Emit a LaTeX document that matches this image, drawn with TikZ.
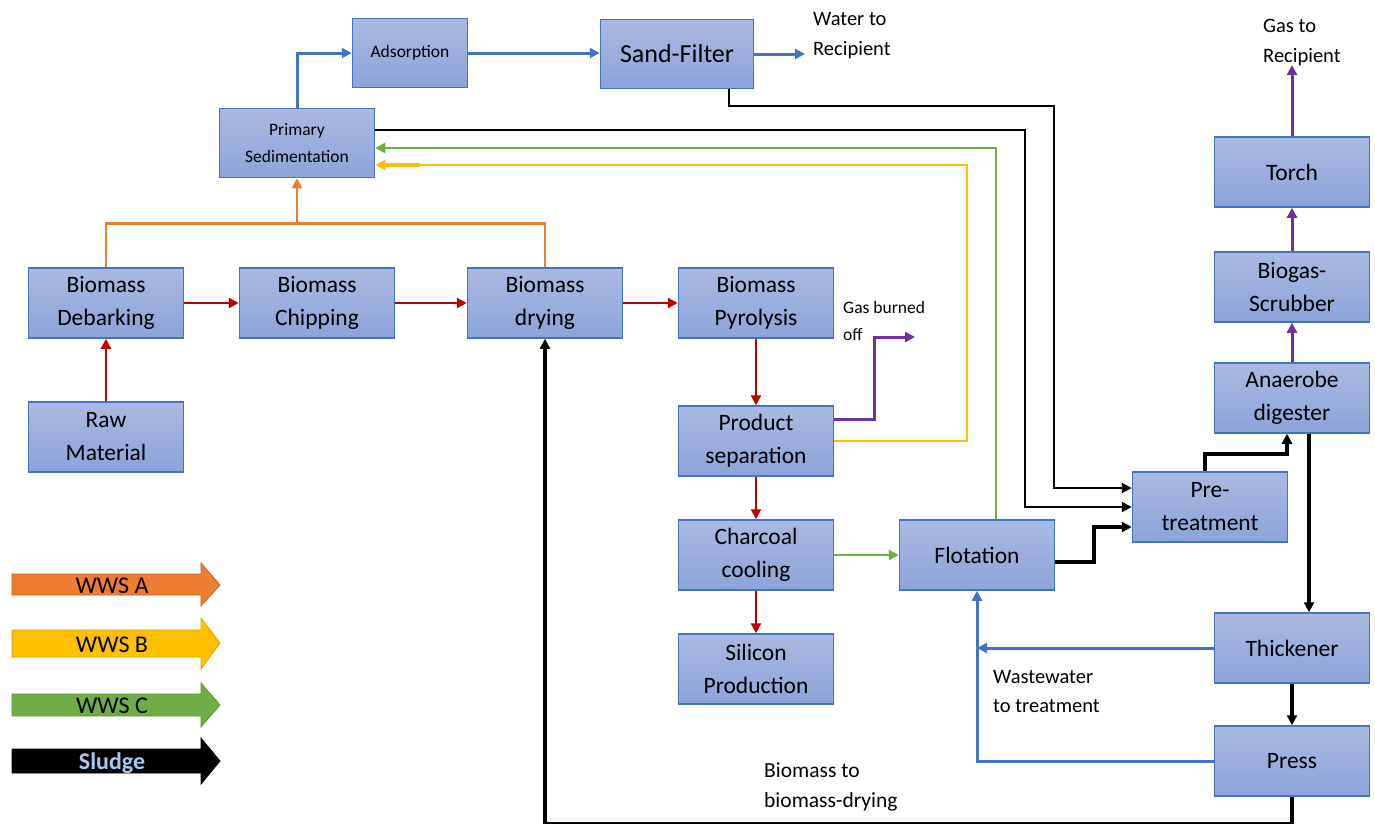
\documentclass[tikz,border=0pt]{standalone}
\usepackage{fontspec}
\setmainfont{Carlito}
\usetikzlibrary{arrows.meta,calc}
\definecolor{boxborder}{HTML}{4472C4}
\definecolor{boxtop}{RGB}{170,185,226}
\definecolor{boxbot}{RGB}{140,163,217}
\definecolor{cred}{HTML}{C00000}
\definecolor{corange}{HTML}{ED7D31}
\definecolor{cblue}{HTML}{4472C4}
\definecolor{cgreen}{HTML}{70AD47}
\definecolor{cyellow}{HTML}{FFC000}
\definecolor{cpurple}{HTML}{7030A0}
\definecolor{sludgetext}{RGB}{165,203,240}
\tikzset{
  box/.style={draw=boxborder, line width=1.5pt, top color=boxtop, bottom color=boxbot,
    minimum width=155pt, minimum height=70pt, align=center, inner sep=2pt,
    font=\fontsize{23.5}{33}\selectfont},
  smallbox/.style={box, font=\fontsize{17.5}{27}\selectfont},
  tip/.style={-{Triangle[length=10pt,width=10pt]}},
  redline/.style={tip, draw=cred, line width=2.3pt},
  blueline/.style={tip, draw=cblue, line width=3pt},
  orangeline/.style={draw=corange, line width=2.6pt},
  greenline/.style={tip, draw=cgreen, line width=2.4pt},
  yellowline/.style={tip, draw=cyellow, line width=1.8pt},
  purpleline/.style={tip, draw=cpurple, line width=3pt},
  thinblack/.style={tip, draw=black, line width=2pt},
  thickblack/.style={tip, draw=black, line width=3.2pt},
  lbl/.style={anchor=west, align=left, inner sep=0pt},
  legtext/.style={font=\fontsize{24}{26}\selectfont},
}
\begin{document}
\begin{tikzpicture}[x=1pt,y=-1pt]
\useasboundingbox (0,0) rectangle (1375,823);
% boxes
\node[smallbox, minimum width=115pt, minimum height=69pt] (ads) at (410,53) {Adsorption};
\node[box, minimum width=153pt, minimum height=69pt, font=\fontsize{26}{30}\selectfont] (sand) at (677,54) {Sand-Filter};
\node[smallbox, minimum height=69pt] (prim) at (297,143) {Primary\\Sedimentation};
\node[box] (deb) at (106,303) {Biomass\\Debarking};
\node[box] (chip) at (317,303) {Biomass\\Chipping};
\node[box] (dry) at (545,303) {Biomass\\drying};
\node[box] (pyro) at (756,303) {Biomass\\Pyrolysis};
\node[box] (raw) at (106,437) {Raw\\Material};
\node[box] (prodsep) at (756,441) {Product\\separation};
\node[box] (charc) at (756,555) {Charcoal\\cooling};
\node[box] (silic) at (756,669) {Silicon\\Production};
\node[box] (flot) at (977,555) {Flotation};
\node[box] (pretr) at (1210,507) {Pre-\\treatment};
\node[box] (anaer) at (1292,398) {Anaerobe\\digester};
\node[box] (scrub) at (1292,287) {Biogas-\\Scrubber};
\node[box] (torch) at (1292,172) {Torch};
\node[box] (thick) at (1292,648) {Thickener};
\node[box] (press) at (1292,761) {Press};
% labels
\node[lbl, font=\fontsize{20.5}{30}\selectfont] (lwater) at (813,36) {Water to\\Recipient};
\node[lbl, font=\fontsize{20.5}{30}\selectfont] (lgas) at (1263,42) {Gas to\\Recipient};
\node[lbl, font=\fontsize{17.5}{27}\selectfont] (lburn) at (843,321) {Gas burned\\off};
\node[lbl, font=\fontsize{20.5}{29}\selectfont] (lwaste) at (993,691) {Wastewater\\to treatment};
\node[lbl, font=\fontsize{21.5}{30}\selectfont] (lbio) at (764,787) {Biomass to\\biomass-drying};
\coordinate (waterend) at (805,54);
\coordinate (burnend) at (915,337);
\coordinate (gasend) at (1292,65);
% red main line
\draw[redline] (raw.north) -- (deb.south);
\draw[redline] (deb.east) -- (chip.west);
\draw[redline] (chip.east) -- (dry.west);
\draw[redline] (dry.east) -- (pyro.west);
\draw[redline] (pyro.south) -- (prodsep.north);
\draw[redline] (prodsep.south) -- (charc.north);
\draw[redline] (charc.south) -- (silic.north);
% orange
\draw[orangeline] (deb.north) -- ++(0,-44) -| (dry.north);
\draw[orangeline, tip] (prim.south |- 0,224) -- (prim.south);
% blue
\draw[blueline] (prim.north) |- (ads.west);
\draw[blueline] (ads.east) -- (ads.east -| sand.west);
\draw[blueline] (sand.east) -- (waterend);
\draw[blueline] (thick.west) -- (thick.west -| flot.south);
\draw[blueline] (press.west) -| (flot.south);
% green
\draw[greenline] (charc.east) -- (flot.west);
\draw[greenline] ([xshift=19pt]flot.north) |- ([yshift=-5pt]prim.east);
% yellow
\draw[draw=cyellow, line width=1.8pt] (prodsep.east) -- (prodsep.east -| 967,0) |- (420,165);
\draw[tip, draw=cyellow, line width=3.2pt] (420,165) -- ([yshift=-22pt]prim.east);
% purple
\draw[purpleline] ([yshift=22pt]prodsep.east) -- ++(40,0) |- (burnend);
\draw[purpleline] (anaer.north) -- (scrub.south);
\draw[purpleline] (scrub.north) -- (torch.south);
\draw[purpleline] (torch.north) -- (gasend);
% black
\draw[thinblack] ([xshift=52pt]sand.south) -- ++(0,17) -| (1054,300) |- ([yshift=19pt]pretr.west);
\draw[thinblack] ([yshift=13pt]prim.east) -| (1025,300) |- (pretr.west);
\draw[thickblack] ([yshift=-7pt]flot.east) -- (1094,562) |- ([yshift=-20pt]pretr.west);
\draw[thickblack] ([xshift=-5pt]pretr.north) |- (1287,454) -- ([xshift=-5pt]anaer.south);
\draw[thickblack] ([xshift=17pt]anaer.south) -- ([xshift=17pt]thick.north);
\draw[thickblack] (thick.south) -- (press.north);
\draw[thickblack] (press.south) -- ++(0,27) -| (dry.south);
% legend
\filldraw[fill=corange, draw=corange!80!black, line width=0.8pt] (12,574) -- (201,574) -- (201,563) -- (220,585) -- (201,606) -- (201,595) -- (12,595) -- cycle;
\node[legtext] (legA) at (112,586) {WWS A};
\filldraw[fill=cyellow, draw=cyellow!85!black, line width=0.8pt] (12,630) -- (201,630) -- (201,618) -- (220,643) -- (201,669) -- (201,657) -- (12,657) -- cycle;
\node[legtext] (legB) at (112,645) {WWS B};
\filldraw[fill=cgreen, draw=cgreen!85!black, line width=0.8pt] (12,694) -- (201,694) -- (201,683) -- (220,705) -- (201,727) -- (201,716) -- (12,716) -- cycle;
\node[legtext] (legC) at (112,706) {WWS C};
\filldraw[fill=black, draw=black, line width=0.8pt] (12,749) -- (201,749) -- (201,738) -- (220,761) -- (201,784) -- (201,773) -- (12,773) -- cycle;
\node[font=\fontsize{24}{26}\selectfont\bfseries, text=sludgetext] (legS) at (112,763) {Sludge};
\end{tikzpicture}
\end{document}
